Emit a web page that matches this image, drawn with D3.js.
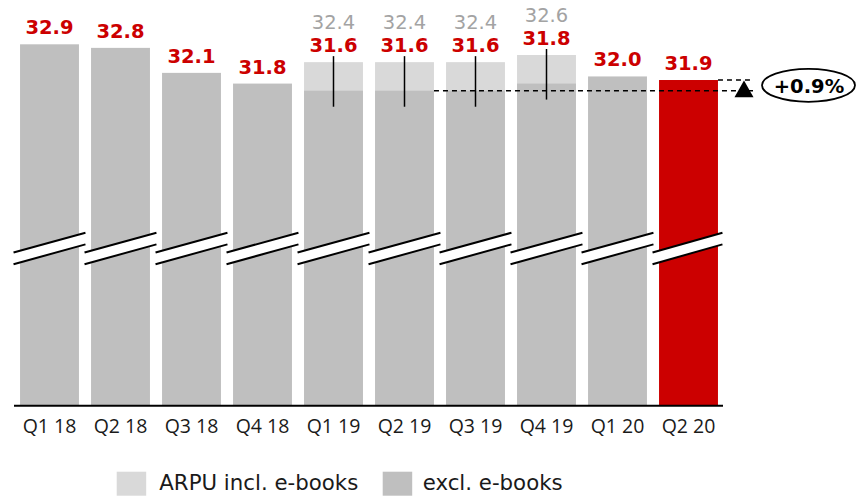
<!DOCTYPE html>
<html>
<head>
<meta charset="utf-8">
<script src="https://cdn.jsdelivr.net/npm/d3@7"></script>
<style>
  html, body { margin: 0; padding: 0; background: #fff; }
  svg { display: block; }
</style>
</head>
<body>
<svg id="chart" width="856" height="496"></svg>
<script>
// Quarterly ARPU (EUR)
const quarters = ["Q1 18", "Q2 18", "Q3 18", "Q4 18", "Q1 19", "Q2 19", "Q3 19", "Q4 19", "Q1 20", "Q2 20"];
const exclEbooks = [32.9, 32.8, 32.1, 31.8, 31.6, 31.6, 31.6, 31.8, 32.0, 31.9];
const inclEbooks = [null, null, null, null, 32.4, 32.4, 32.4, 32.6, null, null];
const changeLabel = "+0.9%";
const legendLabels = ["ARPU incl. e-books", "excl. e-books"];

const RED = "#cc0000", DARK = "#bfbfbf", LIGHT = "#d9d9d9", GREYTXT = "#a3a3a3";
const LABEL_FONT = "DejaVu Sans, sans-serif";

const svg = d3.select("#chart");

const x = d3.scaleBand().domain(quarters).range([14, 724]).paddingInner(0.17).paddingOuter(0.085);
const y = d3.scaleLinear().domain([22.8, 32.9]).range([405, 44.3]);
const bw = x.bandwidth();

const data = quarters.map((q, i) => ({ q, excl: exclEbooks[i], incl: inclEbooks[i], last: i === quarters.length - 1 }));

// light part: ARPU including e-books
svg.append("g").selectAll("rect")
  .data(data.filter(d => d.incl != null))
  .join("rect")
  .attr("x", d => x(d.q)).attr("width", bw)
  .attr("y", d => y(d.incl)).attr("height", d => y.range()[0] - y(d.incl))
  .attr("fill", LIGHT);

// main bars
svg.append("g").selectAll("rect")
  .data(data)
  .join("rect")
  .attr("x", d => x(d.q)).attr("width", bw)
  .attr("y", d => y(d.excl)).attr("height", d => y.range()[0] - y(d.excl))
  .attr("fill", d => d.last ? RED : DARK);

// axis break marks
const brk = svg.append("g");
data.forEach(d => {
  const x0 = x(d.q) - 6.5, x1 = x(d.q) + bw + (d.last ? 4.5 : 6.5);
  const yl = 252.5, yr = 232.7, gap = 11.7;
  brk.append("polygon")
    .attr("points", [[x0, yl], [x1, yr], [x1, yr + gap], [x0, yl + gap]].join(" "))
    .attr("fill", "#fff");
  [0, gap].forEach(o => {
    brk.append("line")
      .attr("x1", x0).attr("y1", yl + o).attr("x2", x1).attr("y2", yr + o)
      .attr("stroke", "#000").attr("stroke-width", 2);
  });
});

// reference dashed lines
const xEnd = 753;
svg.append("line")
  .attr("x1", x("Q2 19") + bw).attr("x2", xEnd)
  .attr("y1", y(31.6)).attr("y2", y(31.6))
  .attr("stroke", "#000").attr("stroke-width", 1.3).attr("stroke-dasharray", "5,4");
svg.append("line")
  .attr("x1", x("Q2 20") + bw).attr("x2", xEnd)
  .attr("y1", y(exclEbooks[9])).attr("y2", y(exclEbooks[9]))
  .attr("stroke", "#000").attr("stroke-width", 1.3).attr("stroke-dasharray", "5,4");

// change arrow
const ax = 744, aTop = y(exclEbooks[9]) + 0.5, aBot = 97.3;
svg.append("polygon")
  .attr("points", [[ax, aTop], [ax + 9.5, aBot], [ax - 9.5, aBot]].join(" "))
  .attr("fill", "#000");

// change bubble
svg.append("ellipse")
  .attr("cx", 808.5).attr("cy", 85.3).attr("rx", 46.5).attr("ry", 16.5)
  .attr("fill", "#fff").attr("stroke", "#000").attr("stroke-width", 1.8);
svg.append("text")
  .attr("x", 809).attr("y", 92.5)
  .attr("text-anchor", "middle")
  .attr("font-family", LABEL_FONT).attr("font-weight", "bold").attr("font-size", 19.5)
  .attr("fill", "#000")
  .text(changeLabel);

// connector lines on e-book bars
svg.append("g").selectAll("line")
  .data(data.filter(d => d.incl != null))
  .join("line")
  .attr("x1", d => x(d.q) + bw / 2).attr("x2", d => x(d.q) + bw / 2)
  .attr("y1", d => y(d.incl) - 6).attr("y2", d => y(d.excl) + 16)
  .attr("stroke", "#000").attr("stroke-width", 1.5);

// value labels
const labelBase = d => y(d.incl != null ? d.incl : d.excl) - 10;
svg.append("g").selectAll("text")
  .data(data)
  .join("text")
  .attr("x", d => x(d.q) + bw / 2).attr("y", labelBase)
  .attr("text-anchor", "middle")
  .attr("font-family", LABEL_FONT).attr("font-weight", "bold").attr("font-size", 19.5)
  .attr("fill", RED)
  .text(d => d.excl.toFixed(1));

svg.append("g").selectAll("text")
  .data(data.filter(d => d.incl != null))
  .join("text")
  .attr("x", d => x(d.q) + bw / 2).attr("y", d => labelBase(d) - 23)
  .attr("text-anchor", "middle")
  .attr("font-family", LABEL_FONT).attr("font-size", 19.5)
  .attr("fill", GREYTXT)
  .text(d => d.incl.toFixed(1));

// x axis
const axis = svg.append("g")
  .attr("transform", `translate(0,${y.range()[0] + 0.7})`)
  .call(d3.axisBottom(x).tickSize(0).tickSizeOuter(0));
axis.select(".domain").attr("stroke", "#000").attr("stroke-width", 2)
  .attr("d", `M14,0H723`);
axis.selectAll("text")
  .attr("y", 27).attr("dy", 0)
  .attr("font-family", "Open Sans, sans-serif").attr("font-size", 19.5)
  .attr("fill", "#1a1a1a");

// legend
const legend = svg.append("g");
const legendItems = [
  { label: legendLabels[0], color: LIGHT, sx: 116.7, tx: 159.3 },
  { label: legendLabels[1], color: DARK, sx: 382.7, tx: 422.7 }
];
legendItems.forEach(it => {
  legend.append("rect").attr("x", it.sx).attr("y", 471.7).attr("width", 29.5).attr("height", 24).attr("fill", it.color);
  legend.append("text").attr("x", it.tx).attr("y", 490)
    .attr("font-family", LABEL_FONT).attr("font-size", 21.3)
    .attr("fill", "#1a1a1a").text(it.label);
});
</script>
</body>
</html>
